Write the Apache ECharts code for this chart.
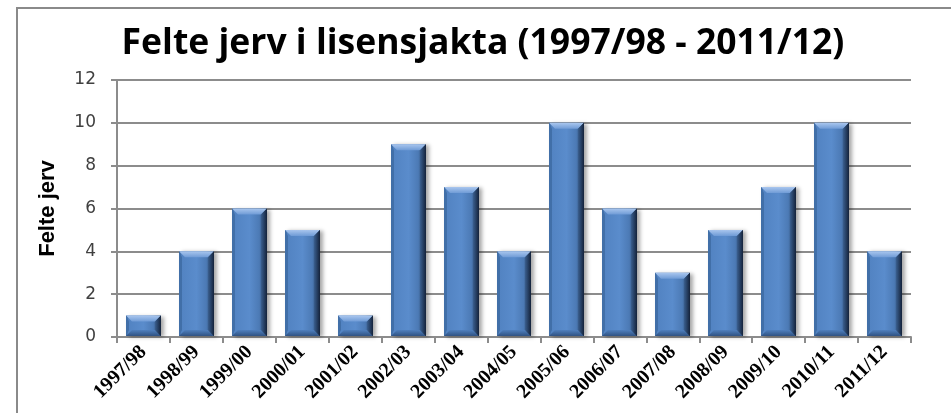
<!DOCTYPE html>
<html><head><meta charset="utf-8">
<script src="https://cdn.jsdelivr.net/npm/echarts@6/dist/echarts.min.js"></script>
<style>html,body{margin:0;padding:0;background:#fff}#c{width:951px;height:413px}</style>
</head><body><div id="c"></div>
<script>
const titleText = 'Felte jerv i lisensjakta (1997/98 - 2011/12)';
const yAxisName = 'Felte jerv';
const categories = ['1997/98','1998/99','1999/00','2000/01','2001/02','2002/03','2003/04','2004/05','2005/06','2006/07','2007/08','2008/09','2009/10','2010/11','2011/12'];
const values = [1,4,6,5,1,9,7,4,10,6,3,5,7,10,4];
const yTicks = [0,2,4,6,8,10,12];

const chart = echarts.init(document.getElementById('c'));
function lg(stops){return new echarts.graphic.LinearGradient(0,0,1,0,stops.map(c=>({offset:c[0],color:c[1]})));}
function vg(stops){return new echarts.graphic.LinearGradient(0,0,0,1,stops.map(c=>({offset:c[0],color:c[1]})));}
chart.setOption({
  animation:false,
  backgroundColor:'#fff',
  title:{text:titleText,left:478,textAlign:'center',top:21,
    textStyle:{fontFamily:'Open Sans',fontWeight:'bold',fontSize:35.5,color:'#000'}},
  graphic:[{type:'rect',shape:{x:17,y:8,width:1000,height:500},style:{fill:'none',stroke:'#8a8a8a',lineWidth:2},silent:true,z:-1}],
  grid:{left:117,right:40,top:80,bottom:76},
  xAxis:{type:'category',data:categories,
    axisLine:{lineStyle:{color:'#8c8c8c',width:2}},
    axisTick:{show:true,length:6,lineStyle:{color:'#8c8c8c',width:2}},
    axisLabel:{rotate:45,interval:0,margin:12,fontFamily:'Liberation Serif',fontWeight:'bold',fontSize:20,color:'#000'}},
  yAxis:{type:'value',min:yTicks[0],max:yTicks[yTicks.length-1],interval:2,
    name:yAxisName,nameLocation:'middle',nameGap:58,
    nameTextStyle:{fontFamily:'Liberation Sans',fontWeight:'bold',fontSize:22,color:'#000'},
    axisLine:{show:true,lineStyle:{color:'#8c8c8c',width:2}},
    axisTick:{show:true,length:6,lineStyle:{color:'#8c8c8c',width:2}},
    splitLine:{lineStyle:{color:'#8c8c8c',width:2}},
    axisLabel:{fontFamily:'DejaVu Sans',fontSize:17,color:'#404040',margin:21}},
  series:[{type:'custom',data:values.map((v,i)=>[i,v]),
    encode:{x:0,y:1},
    renderItem:function(params,api){
      const i=api.value(0),v=api.value(1);
      const t=api.coord([i,v]),b0=api.coord([i,0]);
      const bw=api.size([1,0])[0]*0.66;
      const x0=Math.round(t[0]-bw/2),x1=Math.round(t[0]+bw/2),y0=t[1],y1=b0[1]-1;
      const w=x1-x0,h=y1-y0;
      const b=Math.min(6,h/2);
      return {type:'group',children:[
        {type:'rect',shape:{x:x0,y:y0,width:w,height:h},
          style:{fill:lg([[0,'#3d6699'],[0.07,'#5283c2'],[0.5,'#5a8ccc'],[0.78,'#4c7ab5'],[0.92,'#2d4a70'],[1,'#15253a']]),
            shadowBlur:4,shadowOffsetX:3,shadowOffsetY:1,shadowColor:'rgba(0,0,0,0.35)'}},
        {type:'polygon',shape:{points:[[x0,y0],[x1,y0],[x1-b,y0+b],[x0+b,y0+b]]},
          style:{fill:vg([[0,'#a9c6ee'],[1,'#6f9bd6']])}},
        {type:'polygon',shape:{points:[[x0,y1],[x1,y1],[x1-b,y1-b],[x0+b,y1-b]]},
          style:{fill:vg([[0,'#4f7fbd'],[1,'#2f5283']])}},
        {type:'polygon',shape:{points:[[x0,y0],[x0+b*0.5,y0+b],[x0+b*0.5,y1-b],[x0,y1]]},
          style:{fill:'#416fa8'}},
        {type:'polygon',shape:{points:[[x1,y0],[x1-b,y0+b],[x1-b,y1-b],[x1,y1]]},
          style:{fill:lg([[0,'#3a5f8f'],[1,'#14223a']])}}
      ]};
    }}]
});
</script></body></html>
